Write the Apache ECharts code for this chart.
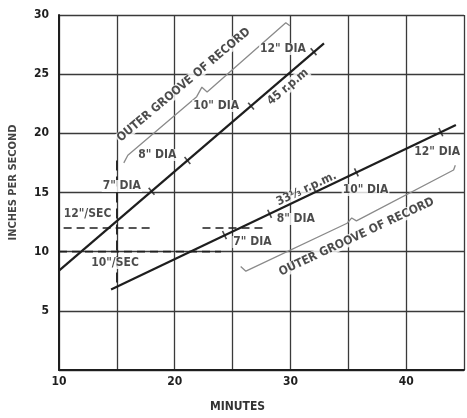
<!DOCTYPE html>
<html>
<head>
<meta charset="utf-8">
<script src="https://cdn.jsdelivr.net/npm/echarts@6/dist/echarts.min.js"></script>
<style>
html,body{margin:0;padding:0;background:#fff;}
#chart{width:467px;height:418px;}
</style>
</head>
<body>
<div id="chart"></div>
<script>
// ---- data ----
const xTicks = [10, 20, 30, 40];
const yTicks = [5, 10, 15, 20, 25, 30];
const line45 = [[10, 8.4], [32.9, 27.6]];
const line33 = [[14.5, 6.8], [44.3, 20.7]];
const ticks45 = [[18.0, 15.1], [21.1, 17.7], [26.6, 22.3], [32.0, 26.9]];
const ticks33 = [[24.3, 11.4], [28.2, 13.2], [35.7, 16.7], [43.0, 20.1]];
const dash12a = [[10.4, 12], [17.9, 12]];
const dash12b = [[22.4, 12], [28.0, 12]];
const dash10 = [[10, 10], [24.0, 10]];
const dashV15 = [[15, 7.4], [15, 18.2]];
const upperGroove = [[15.6, 17.5], [15.95, 18.15], [21.9, 23.1], [22.35, 23.9], [22.8, 23.5], [29.6, 29.35], [29.95, 29.1]];
const lowerGroove = [[25.7, 8.75], [26.15, 8.35], [34.9, 12.4], [35.3, 12.85], [35.7, 12.6], [44.1, 16.9], [44.25, 17.3]];
const annotations = [
  ['12"/SEC', 12.46, 13.19, 0],
  ['10"/SEC', 14.84, 9.04, 0],
  ['7" DIA', 15.43, 15.55, 0],
  ['8" DIA', 18.49, 18.17, 0],
  ['10" DIA', 23.58, 22.3, 0],
  ['12" DIA', 29.35, 27.13, 0],
  ['45 r.p.m', 29.78, 23.92, 40],
  ['OUTER GROOVE OF RECORD', 20.78, 24.09, 40],
  ['33⅓ r.p.m.', 31.39, 15.3, 25],
  ['7" DIA', 26.72, 10.82, 0],
  ['8" DIA', 30.46, 12.76, 0],
  ['10" DIA', 36.49, 15.22, 0],
  ['12" DIA', 42.68, 18.43, 0],
  ['OUTER GROOVE OF RECORD', 35.72, 11.24, 25]
];

const FONT = 'DejaVu Sans Condensed';
const INK = '#1e1e1e';
const chart = echarts.init(document.getElementById('chart'), null, {renderer: 'canvas'});

function lineSeries(data, opts) {
  return Object.assign({
    type: 'line', data: data, symbol: 'none', silent: true, animation: false,
    lineStyle: {color: INK, width: 2.2}
  }, opts);
}

const option = {
  animation: false,
  backgroundColor: '#fff',
  grid: {left: 57, top: 15, width: 412, height: 355, containLabel: false},
  xAxis: {
    type: 'value', min: 10, max: 45, interval: 5,
    name: 'MINUTES', nameLocation: 'middle', nameGap: 31,
    nameTextStyle: {fontFamily: FONT, fontWeight: 'bold', fontSize: 12, color: '#333', padding: [0, 0, 0, -48]},
    axisLine: {show: true, lineStyle: {color: INK, width: 2}},
    axisTick: {show: false},
    axisLabel: {fontFamily: FONT, fontWeight: 'bold', fontSize: 12, color: INK, margin: 6,
      formatter: v => xTicks.indexOf(v) >= 0 ? String(v) : ''},
    splitLine: {show: true, lineStyle: {color: '#3a3a3a', width: 1.3}}
  },
  yAxis: {
    type: 'value', min: 0, max: 30, interval: 5,
    name: 'INCHES PER SECOND', nameLocation: 'middle', nameGap: 40, nameRotate: 90,
    nameTextStyle: {fontFamily: FONT, fontWeight: 'bold', fontSize: 11, color: '#444', padding: [0, 0, 0, 20]},
    axisLine: {show: true, lineStyle: {color: INK, width: 2}},
    axisTick: {show: false},
    axisLabel: {fontFamily: FONT, fontWeight: 'bold', fontSize: 12, color: INK, margin: 10,
      formatter: v => yTicks.indexOf(v) >= 0 ? String(v) : ''},
    splitLine: {show: true, lineStyle: {color: '#3a3a3a', width: 1.3}}
  },
  series: [
    lineSeries(dash12a, {lineStyle: {color: INK, width: 1.6, type: [8, 5]}}),
    lineSeries(dash12b, {lineStyle: {color: INK, width: 1.6, type: [8, 5]}}),
    lineSeries(dash10, {lineStyle: {color: INK, width: 1.6, type: [8, 5]}}),
    lineSeries(dashV15, {lineStyle: {color: INK, width: 1.6, type: [10, 6]}}),
    lineSeries(upperGroove, {lineStyle: {color: '#8a8a8a', width: 1.3}}),
    lineSeries(lowerGroove, {lineStyle: {color: '#8a8a8a', width: 1.3}}),
    {
      type: 'scatter', silent: true, z: 3,
      data: annotations.map(a => ({value: [a[1], a[2]], label: {formatter: a[0], rotate: a[3]}})),
      symbolSize: 0,
      label: {show: true, position: 'inside', fontFamily: FONT, fontWeight: 'bold', fontSize: 12,
        color: INK, backgroundColor: '#fff', padding: [0, 1]}
    },
    lineSeries(line45, {z: 4}),
    lineSeries(line33, {z: 4}),
    {type: 'scatter', silent: true, z: 5, data: ticks45, symbol: 'rect', symbolSize: [1.6, 9],
      symbolRotate: 40, itemStyle: {color: INK}},
    {type: 'scatter', silent: true, z: 5, data: ticks33, symbol: 'rect', symbolSize: [1.6, 9],
      symbolRotate: 25, itemStyle: {color: INK}}
  ]
};
chart.setOption(option);
</script>
</body>
</html>
